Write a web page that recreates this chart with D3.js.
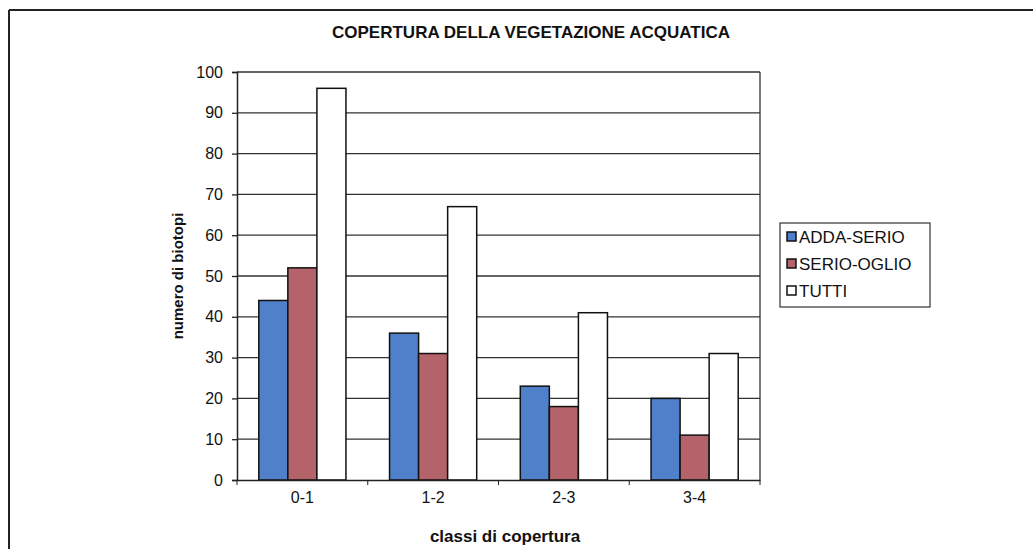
<!DOCTYPE html>
<html>
<head>
<meta charset="utf-8">
<script src="https://cdn.jsdelivr.net/npm/d3@7"></script>
<style>
  body { margin: 0; background: #fff; }
  text { font-family: "Liberation Sans", Arial, sans-serif; fill: #111; }
</style>
</head>
<body>
<div id="chart"></div>
<script>
// dati
let categories = ["0-1", "1-2", "2-3", "3-4"];
let seriesNames = ["ADDA-SERIO", "SERIO-OGLIO", "TUTTI"];
let addaSerio = [44, 36, 23, 20];
let serioOglio = [52, 31, 18, 11];
let tutti = [96, 67, 41, 31];
let yTicks = [0, 10, 20, 30, 40, 50, 60, 70, 80, 90, 100];
let colors = ["#4f80c9", "#b5636b", "#ffffff"];

let values = [addaSerio, serioOglio, tutti];

let width = 1033;
let height = 549;
let margin = {"top": 72, "bottom": 69, "left": 237, "right": 273};

let svg = d3.select("#chart")
  .append("svg")
  .attr("width", width)
  .attr("height", height);

// cornice esterna
svg.append("line")
  .attr("x1", 9).attr("x2", width).attr("y1", 10).attr("y2", 10)
  .attr("stroke", "#222").attr("stroke-width", 2);
svg.append("line")
  .attr("x1", 9).attr("x2", 9).attr("y1", 10).attr("y2", height)
  .attr("stroke", "#222").attr("stroke-width", 2);

// scale
let xScale = d3.scaleBand()
  .domain(categories)
  .range([margin.left, width - margin.right]);

let barW = xScale.bandwidth() / 4.5;
let xInner = d3.scaleBand()
  .domain(seriesNames)
  .range([0, barW * 3]);

let yScale = d3.scaleLinear()
  .domain([0, 100])
  .range([height - margin.bottom, margin.top]);

// griglia
svg.append("g")
  .selectAll("line")
  .data(yTicks.filter(function(d) { return d > 0; }))
  .enter()
  .append("line")
  .attr("x1", margin.left)
  .attr("x2", width - margin.right)
  .attr("y1", function(d) { return yScale(d); })
  .attr("y2", function(d) { return yScale(d); })
  .attr("stroke", "#333")
  .attr("stroke-width", 1.3);

// bordo destro dell'area
svg.append("line")
  .attr("x1", width - margin.right).attr("x2", width - margin.right)
  .attr("y1", yScale(100)).attr("y2", yScale(0))
  .attr("stroke", "#333").attr("stroke-width", 1.3);

// barre
let groups = svg.append("g")
  .selectAll("g")
  .data(categories)
  .enter()
  .append("g")
  .attr("transform", function(d) {
    return "translate(" + (xScale(d) + xScale.bandwidth() / 2 - barW * 1.5) + ",0)";
  });

groups.selectAll("rect")
  .data(function(d, i) {
    return seriesNames.map(function(s, j) { return {"s": s, "j": j, "v": values[j][i]}; });
  })
  .enter()
  .append("rect")
  .attr("x", function(d) { return xInner(d.s); })
  .attr("y", function(d) { return yScale(d.v); })
  .attr("width", barW)
  .attr("height", function(d) { return yScale(0) - yScale(d.v); })
  .attr("fill", function(d) { return colors[d.j]; })
  .attr("stroke", "#111")
  .attr("stroke-width", 1.5);

// assi
let axisy = d3.axisLeft(yScale).tickValues(yTicks).tickSize(5).tickPadding(9);
let gy = svg.append("g")
  .attr("transform", "translate(" + margin.left + ",0)")
  .call(axisy);
gy.selectAll("text").attr("font-size", "16px");
gy.selectAll("line").attr("stroke", "#222").attr("stroke-width", 1.3);
gy.select(".domain").attr("stroke", "#222").attr("stroke-width", 1.5);

let axisx = d3.axisBottom(xScale).tickSize(0).tickPadding(12);
let gx = svg.append("g")
  .attr("transform", "translate(0," + yScale(0) + ")")
  .call(axisx);
gx.selectAll("text").attr("font-size", "16px");
gx.select(".domain").attr("stroke", "#222").attr("stroke-width", 1.5);

// tacche tra le categorie
svg.append("g")
  .selectAll("line")
  .data(categories.concat(["end"]))
  .enter()
  .append("line")
  .attr("x1", function(d, i) { return margin.left + i * xScale.step(); })
  .attr("x2", function(d, i) { return margin.left + i * xScale.step(); })
  .attr("y1", yScale(0))
  .attr("y2", yScale(0) + 5)
  .attr("stroke", "#222");

// titoli
svg.append("text")
  .attr("x", 531)
  .attr("y", 38)
  .attr("text-anchor", "middle")
  .attr("font-size", "17px")
  .attr("font-weight", "bold")
  .text("COPERTURA DELLA VEGETAZIONE ACQUATICA");

svg.append("text")
  .attr("x", 505)
  .attr("y", 542)
  .attr("text-anchor", "middle")
  .attr("font-size", "17px")
  .attr("font-weight", "bold")
  .text("classi di copertura");

svg.append("text")
  .attr("transform", "translate(183," + ((yScale(0) + yScale(100)) / 2) + ") rotate(-90)")
  .attr("text-anchor", "middle")
  .attr("font-size", "15px")
  .attr("font-weight", "bold")
  .text("numero di biotopi");

// legenda
let legend = svg.append("g").attr("transform", "translate(780,223)");
legend.append("rect")
  .attr("width", 150)
  .attr("height", 84)
  .attr("fill", "#fff")
  .attr("stroke", "#333")
  .attr("stroke-width", 1.2);

let items = legend.selectAll("g.item")
  .data(seriesNames)
  .enter()
  .append("g")
  .attr("class", "item")
  .attr("transform", function(d, i) { return "translate(7," + (14 + i * 27) + ")"; });

items.append("rect")
  .attr("x", 0)
  .attr("y", -5)
  .attr("width", 9)
  .attr("height", 9)
  .attr("fill", function(d, i) { return colors[i]; })
  .attr("stroke", "#111")
  .attr("stroke-width", 1.5);

items.append("text")
  .attr("x", 12)
  .attr("y", 6)
  .attr("font-size", "17px")
  .text(function(d) { return d; });
</script>
</body>
</html>
